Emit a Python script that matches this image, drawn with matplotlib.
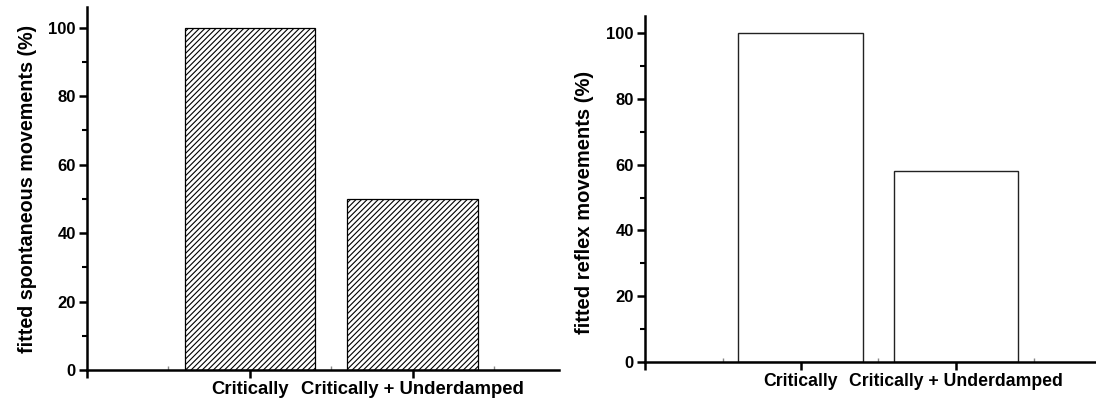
import matplotlib.pyplot as plt
from matplotlib.ticker import MultipleLocator

plt.rcParams['font.family'] = ['Liberation Sans', 'DejaVu Sans']
plt.rcParams['font.weight'] = 'bold'
plt.rcParams['hatch.linewidth'] = 0.8

# data
categories = ["Critically", "Critically + Underdamped"]
positions = [1, 2]
spontaneous = [100, 50]
reflex = [100, 58]

fig = plt.figure(figsize=(10.96, 3.99), dpi=100)
ax1 = fig.add_axes([0.0794, 0.0727, 0.4307, 0.9098])
ax2 = fig.add_axes([0.5885, 0.0927, 0.4115, 0.8672])

ax1.bar(positions, spontaneous, width=0.8, color='white', edgecolor='black',
        hatch='//////', linewidth=0.9)
ax2.bar(positions, reflex, width=0.8, color='white', edgecolor='#222222',
        linewidth=1.0)


def style(ax, ylabel, ytop, xsize, ysize):
    ax.set_xlim(0, 2.9)
    ax.set_ylim(0, ytop)
    for s in ['top', 'right']:
        ax.spines[s].set_visible(False)
    for s in ['left', 'bottom']:
        ax.spines[s].set_linewidth(1.8)
    ax.set_xticks([0] + positions)
    ax.set_xticklabels([''] + categories, fontsize=xsize, fontweight='bold')
    ax.set_xticks([0.5, 1.5, 2.5], minor=True)
    ax.tick_params(axis='x', which='major', direction='out', length=6, width=1.8, pad=2)
    ax.tick_params(axis='x', which='minor', direction='in', length=3, width=1, color='#888888')
    ax.yaxis.set_major_locator(MultipleLocator(20))
    ax.yaxis.set_minor_locator(MultipleLocator(10))
    ax.tick_params(axis='y', which='major', direction='out', length=6, width=1.8,
                   labelsize=12, pad=2)
    ax.tick_params(axis='y', which='minor', direction='out', length=3.5, width=1.5)
    for lab in ax.get_yticklabels():
        lab.set_fontweight('bold')
    ax.set_ylabel(ylabel, fontsize=ysize, fontweight='bold', labelpad=8)


style(ax1, "fitted spontaneous movements (%)", 106.1, 13.3, 14.2)
style(ax2, "fitted reflex movements (%)", 105.2, 12.7, 14.5)
ax2.yaxis.set_label_coords(-0.114, 0.46)

fig.savefig("out.png", dpi=100)
